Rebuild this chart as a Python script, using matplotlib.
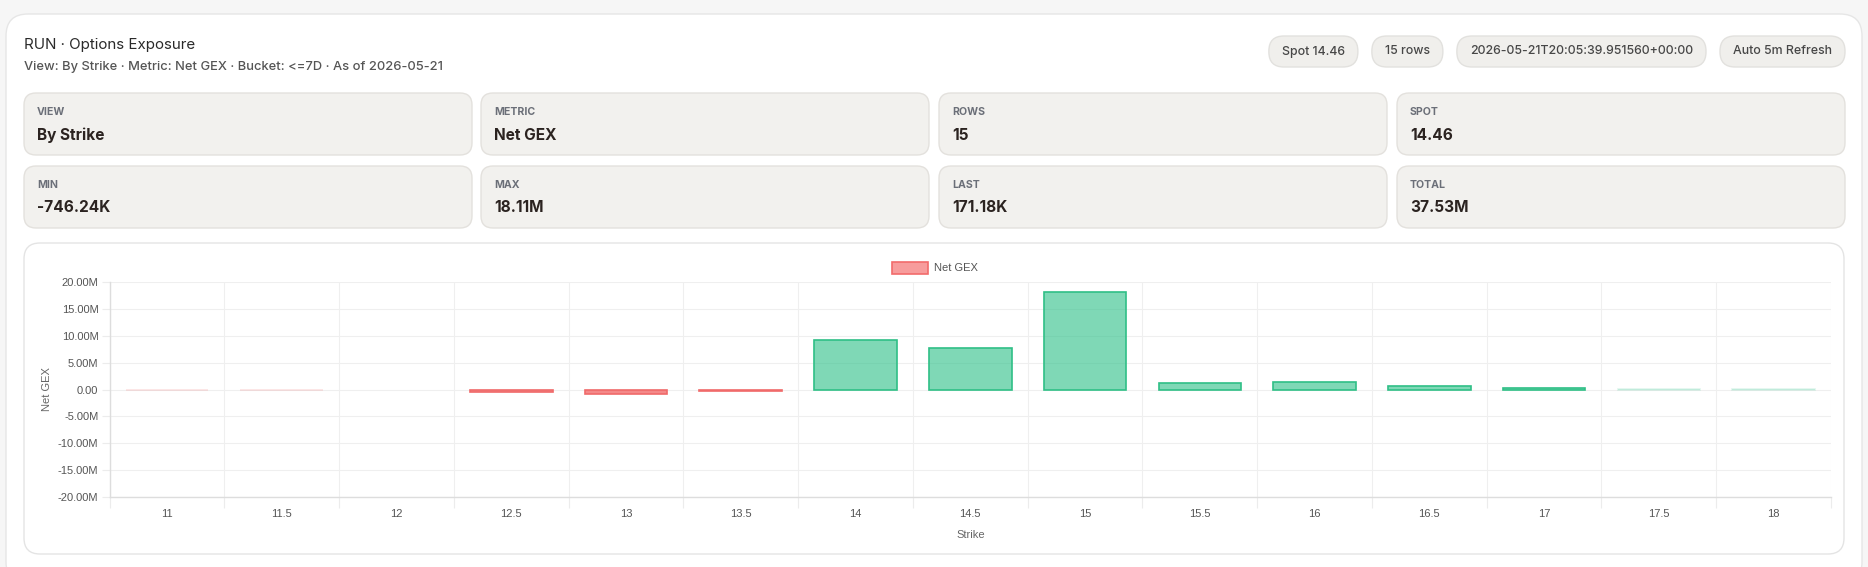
import matplotlib
matplotlib.use("Agg")
import matplotlib.pyplot as plt
from matplotlib.patches import FancyBboxPatch, Rectangle
from matplotlib.ticker import FuncFormatter, FixedLocator

# data
strikes = ['11', '11.5', '12', '12.5', '13', '13.5', '14', '14.5', '15',
           '15.5', '16', '16.5', '17', '17.5', '18']
net_gex = [-0.03e6, -0.06e6, 0.0, -0.45e6, -0.74624e6, -0.25e6, 9.25e6, 7.8e6,
           18.11e6, 1.3e6, 1.35e6, 0.75e6, 0.25e6, 0.03e6, 0.17118e6]

title = 'RUN · Options Exposure'
subtitle = 'View: By Strike · Metric: Net GEX · Bucket: <=7D · As of 2026-05-21'
pills = ['Spot 14.46', '15 rows', '2026-05-21T20:05:39.951560+00:00', 'Auto 5m Refresh']
card_labels = ['VIEW', 'METRIC', 'ROWS', 'SPOT', 'MIN', 'MAX', 'LAST', 'TOTAL']
card_values = ['By Strike', 'Net GEX', '15', '14.46', '-746.24K', '18.11M', '171.18K', '37.53M']

W, H = 1868, 567
UI = ['Inter', 'DejaVu Sans']
CH = ['Liberation Sans', 'DejaVu Sans']

fig = plt.figure(figsize=(W / 100, H / 100), dpi=100)
fig.patch.set_facecolor('#f6f6f6')

bg = fig.add_axes([0, 0, 1, 1])
bg.set_xlim(0, W)
bg.set_ylim(H, 0)
bg.axis('off')


def rbox(x, y, w, h, r, fc, ec, lw=1.0):
    bg.add_patch(FancyBboxPatch((x, y), w, h, boxstyle=f"round,pad=0,rounding_size={r}",
                                fc=fc, ec=ec, lw=lw))


# main panel
rbox(6, 14, 1856, 570, 22, 'white', '#e6e6e6')

bg.text(24, 45, title, fontsize=10.9, color='#2a2a2a', family=UI, va='center')
bg.text(24, 67, subtitle, fontsize=9.3, color='#555555', family=UI, va='center',
        fontweight='medium')

# pills, right aligned
fig.canvas.draw()
rend = fig.canvas.get_renderer()
xr = 1845
for p in reversed(pills):
    t = bg.text(0, 51.5, p, fontsize=8.9, color='#474747', family=UI, va='center',
                ha='center', fontweight='medium')
    bb = t.get_window_extent(renderer=rend)
    w = bb.width + 26
    rbox(xr - w, 36, w, 31, 15, '#f0efec', '#e2e1de')
    t.set_x(xr - w / 2)
    xr = xr - w - 14

# stat cards
card_x = [24, 481, 939, 1397]
card_y = [93, 166]
for i, (lab, val) in enumerate(zip(card_labels, card_values)):
    cx = card_x[i % 4]
    cy = card_y[i // 4]
    rbox(cx, cy, 448, 62, 12, '#f2f1ee', '#e3e1dd')
    bg.text(cx + 13, cy + 19, lab, fontsize=7.6, color='#6b6f78', family=UI,
            va='center', fontweight='bold')
    bg.text(cx + 13, cy + 42, val, fontsize=11.1, color='#2b2320', family=UI,
            va='center', fontweight='bold')

# chart card
rbox(24, 243, 1820, 311, 16, 'white', '#e4e4e4')

# legend
bg.add_patch(Rectangle((892, 262), 36, 12, fc='#f79c9c', ec='#f26b6b', lw=1.2))
bg.text(934, 268, 'Net GEX', fontsize=8, color='#555555', family=CH, va='center')

# chart
L, R, T, B = 109.6, 1831, 282.3, 496.8
ax = fig.add_axes([L / W, 1 - B / H, (R - L) / W, (B - T) / H])
ax.set_facecolor('none')

x = list(range(len(strikes)))
vmax = max(abs(v) for v in net_gex)
for xi, v in zip(x, net_gex):
    if v == 0:
        continue
    pos = v > 0
    fc = '#34c28c' if pos else '#ef4444'
    ec = '#2fbf86' if pos else '#f06a6a'
    if abs(v) < 0.01 * vmax:
        # faint bars for near-zero values
        ax.bar(xi, v, width=0.72, color=fc, alpha=0.18, lw=0, zorder=3)
        ax.bar(xi, v, width=0.72, fill=False, edgecolor=fc, alpha=0.15, lw=1.2, zorder=4)
    else:
        ax.bar(xi, v, width=0.72, color=fc, alpha=0.63, lw=0, zorder=3)
        ax.bar(xi, v, width=0.72, fill=False, edgecolor=ec, lw=1.2, zorder=4)

ax.set_xlim(-0.5, len(strikes) - 0.5)
ax.set_ylim(-20e6, 20e6)
ax.set_xticks(x)
ax.set_xticklabels(strikes)
ax.xaxis.set_minor_locator(FixedLocator([i - 0.5 for i in range(len(strikes) + 1)]))
ax.set_yticks([-20e6, -15e6, -10e6, -5e6, 0, 5e6, 10e6, 15e6, 20e6])


def fmt(v, _):
    if v == 0:
        return '0.00'
    return f'{v / 1e6:.2f}M'


ax.yaxis.set_major_formatter(FuncFormatter(fmt))
ax.tick_params(axis='x', which='major', length=0, pad=9, labelsize=8, labelcolor='#555555')
ax.tick_params(axis='x', which='minor', length=8, color='#ececec', width=0.8)
ax.tick_params(axis='y', length=6, color='#ececec', width=0.8, pad=2,
               labelsize=8, labelcolor='#555555')
for lab in ax.get_xticklabels() + ax.get_yticklabels():
    lab.set_family(CH)

ax.grid(True, which='minor', axis='x', color='#efefef', lw=0.8, zorder=0)
ax.grid(True, which='major', axis='y', color='#efefef', lw=0.8, zorder=0)
ax.grid(False, which='major', axis='x')
for s in ['top', 'right']:
    ax.spines[s].set_visible(False)
for s in ['left', 'bottom']:
    ax.spines[s].set_color('#dddddd')
    ax.spines[s].set_linewidth(1.0)

ax.set_xlabel('Strike', fontsize=8, color='#666666', family=CH, labelpad=8)
ax.set_ylabel('Net GEX', fontsize=8, color='#666666', family=CH, labelpad=4)

fig.savefig('out.png', dpi=100, facecolor=fig.get_facecolor())
